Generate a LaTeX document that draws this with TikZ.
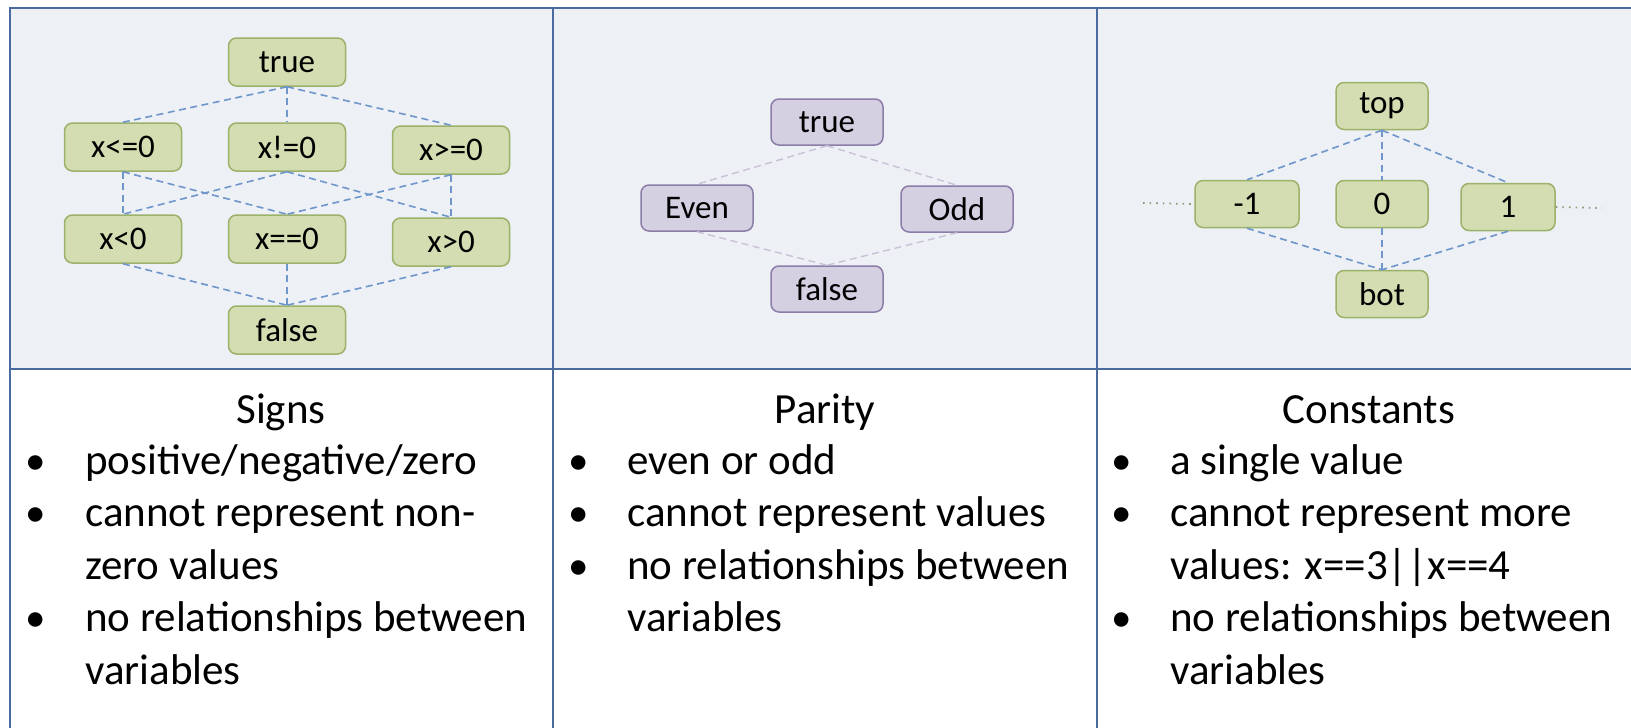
\documentclass[tikz,border=0pt]{standalone}
\usepackage{fontspec}
\setmainfont{Carlito}
\usepackage{array}

\definecolor{panelfill}{HTML}{EDF0F5}
\definecolor{gridline}{HTML}{4B6B9E}
\definecolor{greenfill}{HTML}{D3DDB1}
\definecolor{greenedge}{HTML}{9CB16A}
\definecolor{lilacfill}{HTML}{D5CFE2}
\definecolor{lilacedge}{HTML}{8C7DA8}
\definecolor{bluedash}{HTML}{6E96CB}
\definecolor{lilacdash}{HTML}{C9C1D7}
\definecolor{dotgreen}{HTML}{8F9B78}

\tikzset{
  lat/.style={rounded corners=8pt, inner sep=0pt, line width=1.5pt,
              font=\fontsize{33}{39}\selectfont},
  sgnbox/.style={lat, draw=greenedge, fill=greenfill, minimum width=117pt, minimum height=48pt},
  parbox/.style={lat, draw=lilacedge, fill=lilacfill, minimum width=112pt, minimum height=46pt},
  cstbox/.style={lat, draw=greenedge, fill=greenfill, minimum height=47pt},
  link/.style={draw=bluedash, dash pattern=on 7pt off 4.5pt, line width=1.6pt},
  plink/.style={draw=lilacdash, dash pattern=on 7pt off 4.5pt, line width=1.4pt},
  more/.style={draw=dotgreen, dash pattern=on 1.6pt off 5pt, line width=1.8pt},
  title/.style={anchor=base, inner sep=0pt, font=\fontsize{43}{52.5}\selectfont},
  items/.style={anchor=base west, inner sep=0pt, font=\fontsize{43}{52.5}\selectfont},
  grid/.style={draw=gridline, line width=2.5pt}
}

% bullet list with hanging text column
\newcommand{\itemlist}[2]{%
  \begin{tabular}[t]{@{}p{#1}@{}l@{}}#2\end{tabular}}
\newcommand{\dotmark}{{\fontsize{41}{41}\selectfont •}}

\begin{document}
\begin{tikzpicture}[x=1pt, y=-1pt]
  \useasboundingbox (0,0) rectangle (1631,728);
  \fill[white] (0,0) rectangle (1631,728);

  % table: shaded upper row, white lower row
  \fill[panelfill] (10,8) rectangle (1641,369);
  \draw[grid] (1641,8) -- (10,8) -- (10,740);
  \draw[grid] (10,369) -- (1641,369);
  \draw[grid] (553,8) -- (553,740);
  \draw[grid] (1097,8) -- (1097,740);

  % ---- Signs lattice ----
  \node[sgnbox] (strue)  at (287,62)  {true};
  \node[sgnbox] (sle)    at (123,147) {x<=0};
  \node[sgnbox] (sne)    at (287,147) {x!=0};
  \node[sgnbox] (sge)    at (451,150) {x>=0};
  \node[sgnbox] (slt)    at (123,239) {x<0};
  \node[sgnbox] (seq)    at (287,239) {x==0};
  \node[sgnbox] (sgt)    at (451,242) {x>0};
  \node[sgnbox] (sfalse) at (287,330) {false};

  \draw[link] (strue.south) -- (sle.north);
  \draw[link] (strue.south) -- (sne.north);
  \draw[link] (strue.south) -- (sge.north);
  \draw[link] (sle.south) -- (slt.north);
  \draw[link] (sle.south) -- (seq.north);
  \draw[link] (sne.south) -- (slt.north);
  \draw[link] (sne.south) -- (sgt.north);
  \draw[link] (sge.south) -- (seq.north);
  \draw[link] (sge.south) -- (sgt.north);
  \draw[link] (slt.south) -- (sfalse.north);
  \draw[link] (seq.south) -- (sfalse.north);
  \draw[link] (sgt.south) -- (sfalse.north);

  % ---- Parity lattice ----
  \node[parbox] (ptrue)  at (827,122) {true};
  \node[parbox] (peven)  at (697,208) {Even};
  \node[parbox] (podd)   at (957,209) {Odd};
  \node[parbox] (pfalse) at (827,289) {false};

  \draw[plink] (ptrue.south) -- (peven.north);
  \draw[plink] (ptrue.south) -- (podd.north);
  \draw[plink] (peven.south) -- (pfalse.north);
  \draw[plink] (podd.south) -- (pfalse.north);

  % ---- Constants lattice ----
  \node[cstbox, minimum width=92pt]  (ctop)  at (1382,106) {top};
  \node[cstbox, minimum width=104pt] (cm1)   at (1247,204) {-1};
  \node[cstbox, minimum width=92pt]  (czero) at (1382,204) {0};
  \node[cstbox, minimum width=94pt]  (cone)  at (1508,207) {1};
  \node[cstbox, minimum width=92pt]  (cbot)  at (1382,294) {bot};

  \draw[link] (ctop.south) -- (cm1.north);
  \draw[link] (ctop.south) -- (czero.north);
  \draw[link] (ctop.south) -- (cone.north);
  \draw[link] (cm1.south) -- (cbot.north);
  \draw[link] (czero.south) -- (cbot.north);
  \draw[link] (cone.south) -- (cbot.north);

  \coordinate (cleft)  at (1143,203);
  \coordinate (cright) at (1602,208);
  \draw[more] (cleft) -- (cm1.west);
  \draw[more] (cone.east) -- (cright);

  % ---- descriptions ----
  \node[title] (signs)  at (281,423)  {Signs};
  \node[title] (parity) at (825,423)  {Parity};
  \node[title] (consts) at (1369,423) {Constants};

  \node[items] (signsitems) at (25,474) {\itemlist{60pt}{%
    \dotmark & positive/negative/zero\\
    \dotmark & cannot represent non-\\
      & zero values\\
    \dotmark & no relationships between\\
      & variables}};
  \node[items] (parityitems) at (568,474) {\itemlist{59pt}{%
    \dotmark & even or odd\\
    \dotmark & cannot represent values\\
    \dotmark & no relationships between\\
      & variables}};
  \node[items] (constsitems) at (1111,474) {\itemlist{59pt}{%
    \dotmark & a single value\\
    \dotmark & cannot represent more\\
      & values: x==3||x==4\\
    \dotmark & no relationships between\\
      & variables}};
\end{tikzpicture}
\end{document}
